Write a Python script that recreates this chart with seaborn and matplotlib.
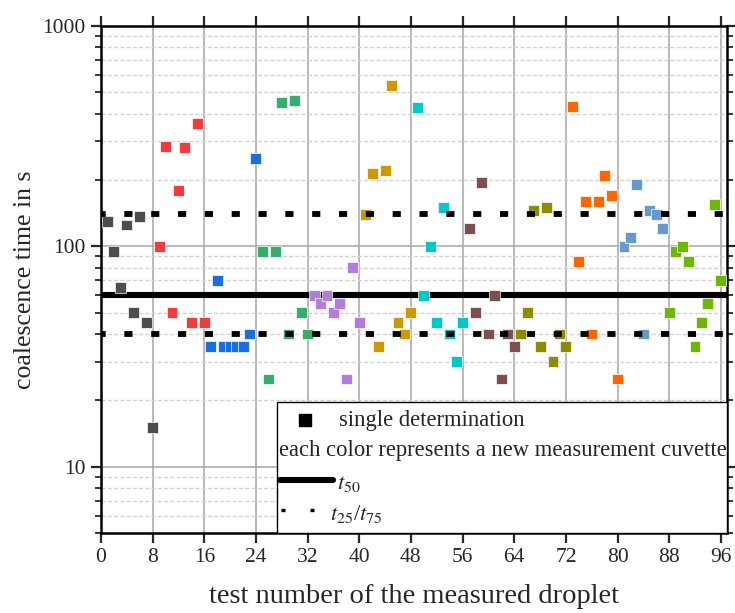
import matplotlib
matplotlib.use("Agg")
import matplotlib.pyplot as plt
from matplotlib.lines import Line2D
from matplotlib.patches import Rectangle
from matplotlib.ticker import LogLocator, NullFormatter
import numpy as np
import pandas as pd
import seaborn as sns

# coalescence time in s, one list per measurement cuvette (droplets numbered 1..96)
cuvette_01 = [130, 95, 65, 125, 50, 136, 45, 15]
cuvette_02 = [100, 285, 50, 180, 280, 45, 360, 45]
cuvette_03 = [35, 70, 35, 35, 35, 35, 40, 250]
cuvette_04 = [95, 25, 95, 450, 40, 460, 50, 40]
cuvette_05 = [60, 55, 60, 50, 55, 25, 80, 45]
cuvette_06 = [140, 215, 35, 220, 535, 45, 40, 50]
cuvette_07 = [425, 60, 100, 45, 150, 40, 30, 45]
cuvette_08 = [120, 50, 195, 40, 60, 25, 40, 35]
cuvette_09 = [40, 50, 145, 35, 150, 30, 40, 35]
cuvette_10 = [430, 85, 160, 40, 160, 210, 170, 25]
cuvette_11 = [100, 110, 190, 40, 145, 140, 120]
cuvette_12 = [50, 95, 100, 85, 35, 45, 55, 155, 70]

cuvettes = [cuvette_01, cuvette_02, cuvette_03, cuvette_04, cuvette_05, cuvette_06,
            cuvette_07, cuvette_08, cuvette_09, cuvette_10, cuvette_11, cuvette_12]

cuvette_colors = ["#4d4d4d", "#f03c3c", "#1b6fdc", "#35ad6b", "#b27bdc", "#cc9900",
                  "#00c8c8", "#7f4e4e", "#8c8c00", "#ff6600", "#6699cc", "#6cb800"]

# quantiles of all droplets
t25 = 40
t50 = 60
t75 = 140

x_ticks = [0, 8, 16, 24, 32, 40, 48, 56, 64, 72, 80, 88, 96]
y_ticks = [10, 100, 1000]

rows = []
n = 1
for c, vals in enumerate(cuvettes):
    for v in vals:
        rows.append((n, v, c))
        n += 1
df = pd.DataFrame(rows, columns=["droplet", "time", "cuvette"])

sns.set_style("ticks")
plt.rcParams["font.family"] = ["Liberation Serif", "DejaVu Serif"]
plt.rcParams["mathtext.fontset"] = "stix"

fig = plt.figure(figsize=(7.35, 6.13), dpi=100)
ax = fig.add_axes([0.1374, 0.1305, 0.8517, 0.8271])

sns.scatterplot(data=df, x="droplet", y="time", hue="cuvette", palette=cuvette_colors,
                marker="s", s=62, edgecolor="#ffffffb0", linewidth=0.7,
                legend=False, ax=ax, zorder=3)

ax.axhline(t50, color="black", lw=4.4, zorder=2.5)
for q in (t25, t75):
    ax.axhline(q, color="black", lw=4.2, ls=(0.6, (1.4, 3.2)), zorder=4)

ax.set_yscale("log")
ax.set_xlim(0, 96.95)
ax.set_ylim(5, 1000)
ax.set_xticks(x_ticks)
ax.set_yticks(y_ticks, labels=[str(t) for t in y_ticks])
ax.yaxis.set_minor_locator(LogLocator(base=10, subs=np.arange(2, 10)))
ax.yaxis.set_minor_formatter(NullFormatter())

ax.grid(which="major", axis="both", color="#a6a6a6", lw=1.1, ls="-", zorder=0)
ax.grid(which="minor", axis="y", color="#d2d2d2", lw=1.0, ls=(0, (3, 1.5)), zorder=0)
ax.set_axisbelow(True)

for sp in ax.spines.values():
    sp.set_linewidth(1.8)
    sp.set_color("black")
ax.tick_params(which="major", direction="out", length=7, width=1.6, top=True, right=True,
               labelsize=15.5, pad=4)
ax.tick_params(which="minor", direction="out", length=4, width=1.3, left=True, right=True)

ax.set_xlabel("test number of the measured droplet", fontsize=20.5, labelpad=12)
ax.set_ylabel("coalescence time in s", fontsize=18.5, labelpad=5)

# legend box in the lower right corner
tr = ax.transAxes
ax.add_patch(Rectangle((0.281, 0.0), 0.719, 0.258, transform=tr, facecolor="white",
                       edgecolor="black", lw=1.0, zorder=6))
ax.add_line(Line2D([0.326], [0.222], transform=tr, marker="s", ms=8, color="black",
                   ls="none", zorder=7))
ax.text(0.381, 0.222, "single determination", transform=tr, fontsize=16.3,
        va="center", ha="left", zorder=7)
ax.text(0.285, 0.163, "each color represents a new measurement cuvette", transform=tr,
        fontsize=16.3, va="center", ha="left", zorder=7)
ax.add_line(Line2D([0.286, 0.371], [0.104, 0.104], transform=tr, color="black", lw=4.4,
                   zorder=7))
ax.text(0.377, 0.098, "$t_{50}$", transform=tr, fontsize=16.3, va="center", ha="left",
        zorder=7)
ax.add_line(Line2D([0.288, 0.36], [0.045, 0.045], transform=tr, color="black", lw=2.4,
                   ls=(0, (1.2, 7.5)), zorder=7))
ax.text(0.366, 0.038, "$t_{25}$/$t_{75}$", transform=tr, fontsize=16.3, va="center",
        ha="left", zorder=7)

fig.savefig("out.png", dpi=100)
